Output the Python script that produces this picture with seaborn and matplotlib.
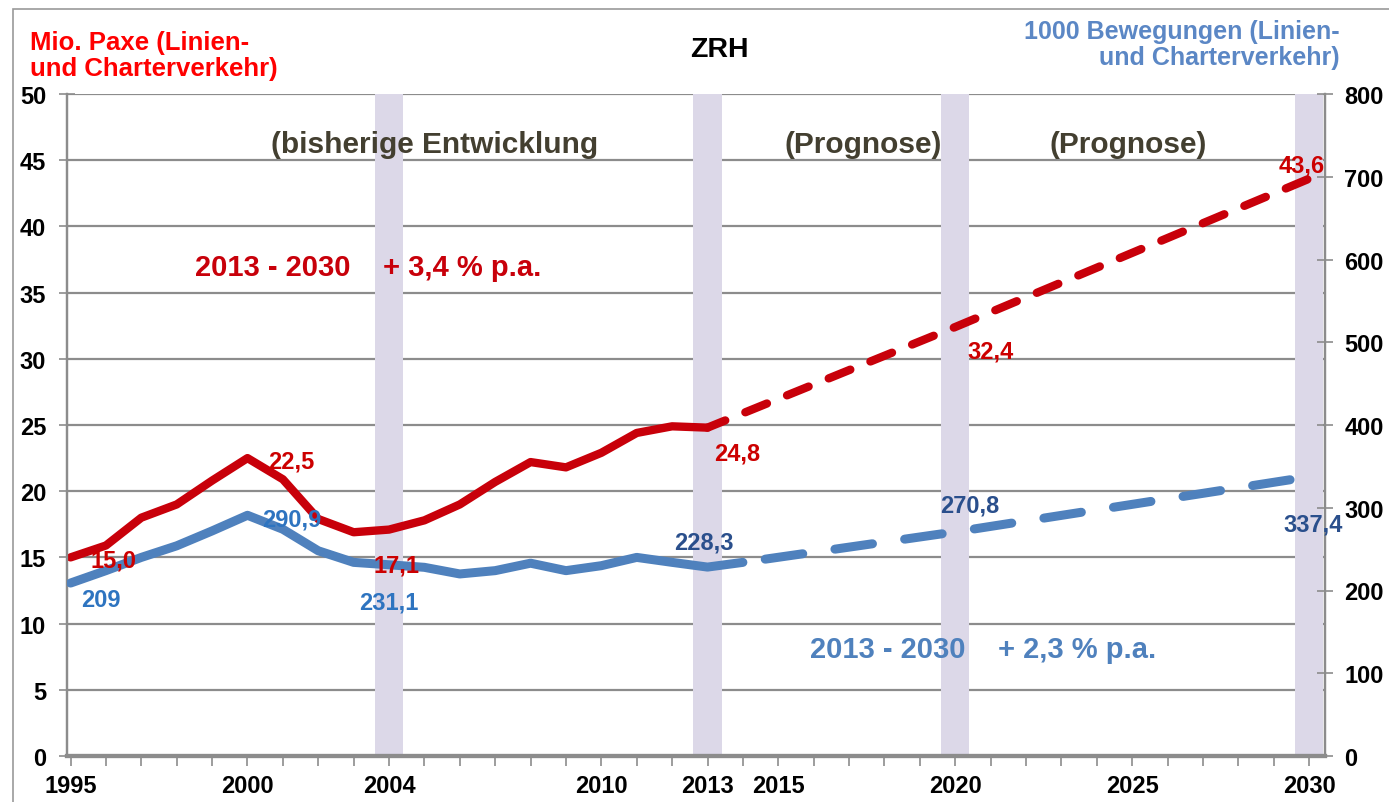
import matplotlib
matplotlib.use("Agg")
import matplotlib.pyplot as plt
import seaborn as sns
import pandas as pd
from matplotlib.patches import Rectangle
from matplotlib.ticker import MultipleLocator, FixedLocator

# ---------------- data ----------------
hist_years = list(range(1995, 2014))
pax_hist = [15.0, 15.9, 18.0, 19.0, 20.8, 22.5, 20.9, 17.9, 16.9, 17.1,
            17.8, 19.0, 20.7, 22.2, 21.8, 22.9, 24.4, 24.9, 24.8]
mov_years = list(range(1995, 2015))
mov_hist = [209, 224, 240, 254, 272, 290.9, 274, 248, 234, 231.1,
            228, 220, 224, 233, 224, 230, 240, 234, 228.3, 234]

fc_pax_years = [2013, 2020, 2030]
pax_fc = [24.8, 32.4, 43.6]
fc_mov_years = [2014, 2020, 2030]
mov_fc = [234, 270.8, 337.4]

band_years = [2004, 2013, 2020, 2030]
band_height = [50, 50, 50, 50]

xtick_years = [1995, 2000, 2004, 2010, 2013, 2015, 2020, 2025, 2030]

pax_labels = [(1995, 15.0, "15,0"), (2000, 22.5, "22,5"), (2004, 17.1, "17,1"),
              (2013, 24.8, "24,8"), (2020, 32.4, "32,4"), (2030, 43.6, "43,6")]
mov_labels = [(1995, 209, "209"), (2000, 290.9, "290,9"), (2004, 231.1, "231,1"),
              (2013, 228.3, "228,3"), (2020, 270.8, "270,8"), (2030, 337.4, "337,4")]

# ---------------- style ----------------
sns.set_theme(style="white")
FONT = ["Liberation Sans", "DejaVu Sans"]
plt.rcParams["font.family"] = FONT

RED = "#c8000a"
BLUE = "#4f81bd"
GRID = "#8c8c8c"
BAND = "#dcd8e8"

fig = plt.figure(figsize=(13.89, 8.03), dpi=100)
ax = fig.add_axes([67 / 1389, 46 / 803, (1325 - 67) / 1389, (757 - 95) / 803])
ax2 = ax.twinx()

# outer frame (left/top)
fig.patches.append(Rectangle((13 / 1389, -0.1), 1.2, (793 / 803) + 0.1,
                             transform=fig.transFigure, fill=False,
                             edgecolor="#9a9a9a", lw=1.2))

ax.set_xlim(1994.9, 2030.45)
ax.set_ylim(0, 50)
ax2.set_ylim(0, 800)

# grid
for v in range(5, 55, 5):
    ax.axhline(v, color=GRID, lw=1.6, zorder=0.5)

# bands
ax.bar(band_years, band_height, width=0.8, color=BAND, zorder=1, linewidth=0)

# lines
df_pax_h = pd.DataFrame({"year": hist_years, "val": pax_hist})
df_pax_f = pd.DataFrame({"year": fc_pax_years, "val": pax_fc})
df_mov_h = pd.DataFrame({"year": mov_years, "val": mov_hist})
df_mov_f = pd.DataFrame({"year": fc_mov_years, "val": mov_fc})

sns.lineplot(data=df_pax_h, x="year", y="val", ax=ax, color=RED, lw=6,
             solid_capstyle="round", solid_joinstyle="round", zorder=4)
sns.lineplot(data=df_pax_f, x="year", y="val", ax=ax, color=RED, lw=6,
             dashes=False, zorder=4)
ax.lines[-1].set_linestyle((0.5, (2.8, 2.6)))
ax.lines[-1].set_dash_capstyle("round")

sns.lineplot(data=df_mov_h, x="year", y="val", ax=ax2, color=BLUE, lw=6.5,
             solid_capstyle="round", solid_joinstyle="round", zorder=3)
sns.lineplot(data=df_mov_f, x="year", y="val", ax=ax2, color=BLUE, lw=6.5,
             dashes=False, zorder=3)
ax2.lines[-1].set_linestyle((-2.5, (4.2, 3.6)))
ax2.lines[-1].set_dash_capstyle("round")

ax.set_xlabel("")
ax.set_ylabel("")
ax2.set_xlabel("")
ax2.set_ylabel("")

# ticks
ax.xaxis.set_major_locator(FixedLocator(xtick_years))
ax.xaxis.set_minor_locator(MultipleLocator(1))
ax.set_xticklabels([str(y) for y in xtick_years])
ax.yaxis.set_major_locator(MultipleLocator(5))
ax2.yaxis.set_major_locator(MultipleLocator(100))

for lab in ax.get_xticklabels() + ax.get_yticklabels() + ax2.get_yticklabels():
    lab.set_fontfamily(FONT)
    lab.set_fontweight("bold")
    lab.set_fontsize(17)
    lab.set_color("black")

ax.tick_params(axis="x", which="both", direction="out", length=7, width=1.2,
               color=GRID, bottom=True, pad=6)
ax.tick_params(axis="y", which="major", direction="inout", length=12, width=1.2,
               color=GRID, left=True, pad=9)
ax2.tick_params(axis="y", which="major", direction="inout", length=12, width=1.2,
                color=GRID, right=True, pad=8)

for a in (ax, ax2):
    a.spines["top"].set_visible(False)
    a.spines["left"].set_color(GRID)
    a.spines["right"].set_color(GRID)
    a.spines["left"].set_linewidth(1.6)
    a.spines["right"].set_linewidth(1.6)
    a.spines["bottom"].set_color(GRID)
    a.spines["bottom"].set_linewidth(3)
ax.grid(False)
ax2.grid(False)

# texts
fig.text(719 / 1389, 1 - 50 / 803, "ZRH", family=FONT, weight="bold",
         size=20.5, ha="center", va="center", color="black")
fig.text(30 / 1389, 1 - 56 / 803, "Mio. Paxe (Linien-\nund Charterverkehr)",
         family=FONT, weight="bold", size=18.5, color="#ff0000",
         ha="left", va="center", linespacing=1.1)
fig.text(1340 / 1389, 1 - 45 / 803, "1000 Bewegungen (Linien-\nund Charterverkehr)",
         family=FONT, weight="bold", size=18, color="#5b87c5",
         ha="right", va="center", multialignment="right", linespacing=1.1)

sub_col = "#433f30"
ax.text(2005.3, 46.2, "(bisherige Entwicklung", family=FONT, weight="bold",
        size=21.5, color=sub_col, ha="center", va="center")
ax.text(2017.4, 46.2, "(Prognose)", family=FONT, weight="bold",
        size=21.5, color=sub_col, ha="center", va="center")
ax.text(2024.9, 46.2, "(Prognose)", family=FONT, weight="bold",
        size=21.5, color=sub_col, ha="center", va="center")

ax.text(2003.4, 36.9, "2013 - 2030    + 3,4 % p.a.", family=FONT, weight="bold",
        size=21, color="#c8000a", ha="center", va="center")
ax2.text(2020.8, 129, "2013 - 2030    + 2,3 % p.a.", family=FONT, weight="bold",
         size=21, color="#4f81bd", ha="center", va="center")

# data labels (drawn on top axes so they sit above both lines)
pax_off = {1995: (1.2, -0.2), 2000: (1.25, -0.2), 2004: (0.2, -2.7),
           2013: (0.85, -1.95), 2020: (1.0, -1.8), 2030: (-0.2, 1.0)}
for x, y, s in pax_labels:
    dx, dy = pax_off[x]
    ax2.text(x + dx, y + dy, s, family=FONT, weight="bold", size=17,
             color="#cc0000", ha="center", va="center", zorder=6,
             transform=ax.transData)

mov_off = {1995: (0.85, -20), 2000: (1.25, -4), 2004: (0.0, -45),
           2013: (-0.1, 30), 2020: (0.4, 32), 2030: (0.1, -57)}
mov_col = {1995: "#2e74c0", 2000: "#2e74c0", 2004: "#2e74c0",
           2013: "#2a4f8c", 2020: "#2a4f8c", 2030: "#2a4f8c"}
for x, y, s in mov_labels:
    dx, dy = mov_off[x]
    ax2.text(x + dx, y + dy, s, family=FONT, weight="bold", size=17,
             color=mov_col[x], ha="center", va="center", zorder=6)

fig.savefig("out.png", dpi=100, facecolor="white")
